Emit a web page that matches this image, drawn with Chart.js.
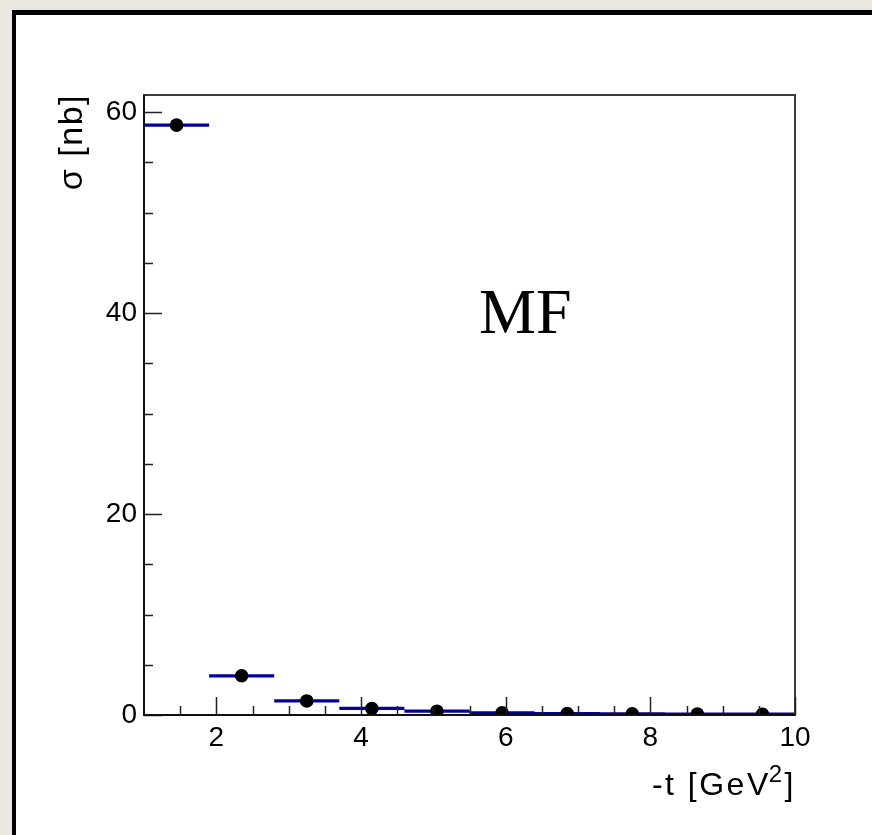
<!DOCTYPE html>
<html><head><meta charset="utf-8">
<script src="https://cdn.jsdelivr.net/npm/chart.js@4.4.1/dist/chart.umd.min.js"></script>
<style>html,body{margin:0;padding:0;background:#ebe8e1;overflow:hidden}#wrap{position:relative;width:872px;height:835px}</style>
</head><body><div id="wrap"><canvas id="c" width="872" height="835"></canvas></div>
<script>
// ---- data ----
const binEdges   = [1.0, 1.9, 2.8, 3.7, 4.6, 5.5, 6.4, 7.3, 8.2, 9.1, 10.0];
const binCenters = [1.45, 2.35, 3.25, 4.15, 5.05, 5.95, 6.85, 7.75, 8.65, 9.55];
const sigmaNb    = [58.7, 3.9, 1.4, 0.65, 0.38, 0.22, 0.15, 0.12, 0.10, 0.08];
const xTickValues = [1.5, 2, 2.5, 3, 3.5, 4, 4.5, 5, 5.5, 6, 6.5, 7, 7.5, 8, 8.5, 9, 9.5, 10];
const xMajorTicks = [2, 4, 6, 8, 10];
const yTickValues = [0, 5, 10, 15, 20, 25, 30, 35, 40, 45, 50, 55, 60];
const yMajorTicks = [0, 20, 40, 60];
const xTitleMain = '-t [GeV', xTitleSup = '2', xTitleEnd = ']';
const yTitle = 'σ [nb]';
const modelLabel = 'MF';

// histogram segments (null breaks between bins)
const histData = [];
for (let i = 0; i < sigmaNb.length; i++) {
  histData.push({x: binEdges[i], y: sigmaNb[i]});
  histData.push({x: binEdges[i + 1], y: sigmaNb[i]});
  histData.push({x: binEdges[i + 1], y: null});
}
const pointData = binCenters.map((x, i) => ({x: x, y: sigmaNb[i]}));

const SANS = "'Liberation Sans', Arial, sans-serif";

const decor = {
  id: 'decor',
  beforeDraw(chart) {
    const ctx = chart.ctx;
    ctx.save();
    ctx.fillStyle = '#ebe8e1';
    ctx.fillRect(0, 0, 872, 835);
    ctx.fillStyle = '#000';
    ctx.fillRect(12, 10, 872, 835);
    ctx.fillStyle = '#fff';
    ctx.fillRect(16, 15, 872, 835);
    ctx.restore();
  },
  afterDraw(chart) {
    const ctx = chart.ctx;
    const a = chart.chartArea;
    const xs = chart.scales.x, ys = chart.scales.y;
    ctx.save();
    // frame
    ctx.strokeStyle = '#3c3c3c';
    ctx.lineWidth = 2;
    ctx.strokeRect(a.left, a.top, a.right - a.left, a.bottom - a.top);
    // ticks
    ctx.strokeStyle = '#222';
    ctx.lineWidth = 1.5;
    ctx.beginPath();
    xs.ticks.forEach(t => {
      const p = Math.round(xs.getPixelForValue(t.value)) + 0.5;
      const len = xMajorTicks.includes(t.value) ? 18 : 9;
      ctx.moveTo(p, a.bottom); ctx.lineTo(p, a.bottom - len);
    });
    ys.ticks.forEach(t => {
      const p = Math.round(ys.getPixelForValue(t.value)) + 0.5;
      const len = yMajorTicks.includes(t.value) ? 18 : 9;
      ctx.moveTo(a.left, p); ctx.lineTo(a.left + len, p);
    });
    ctx.stroke();
    // axis lines
    ctx.strokeStyle = '#111';
    ctx.lineWidth = 2;
    ctx.beginPath();
    ctx.moveTo(a.left, a.top); ctx.lineTo(a.left, a.bottom); ctx.lineTo(a.right, a.bottom);
    ctx.stroke();

    ctx.fillStyle = '#000';
    // x title (right aligned at right edge of plot)
    const fMain = "32px " + SANS, fSup = "24px " + SANS;
    ctx.letterSpacing = '2.5px';
    ctx.font = fMain;
    const wMain = ctx.measureText(xTitleMain).width;
    const wEnd = ctx.measureText(xTitleEnd).width;
    ctx.font = fSup;
    const wSup = ctx.measureText(xTitleSup).width;
    const xr = a.right + 3;
    const base = 795;
    let x0 = xr - wMain - wSup - wEnd;
    ctx.textBaseline = 'alphabetic';
    ctx.textAlign = 'left';
    ctx.font = fMain;
    ctx.fillText(xTitleMain, x0, base);
    ctx.font = fSup;
    ctx.fillText(xTitleSup, x0 + wMain - 2, base - 13);
    ctx.font = fMain;
    ctx.fillText(xTitleEnd, x0 + wMain + wSup - 2, base);

    // y title (rotated, ending at plot top)
    ctx.save();
    ctx.font = "34px " + SANS;
    ctx.letterSpacing = '1.5px';
    ctx.translate(82, a.top - 1);
    ctx.rotate(-Math.PI / 2);
    ctx.textAlign = 'right';
    ctx.textBaseline = 'alphabetic';
    ctx.fillText(yTitle, 0, 0);
    ctx.restore();

    // model label
    ctx.letterSpacing = '0px';
    ctx.font = "64px 'Liberation Serif', 'Times New Roman', serif";
    ctx.textAlign = 'left';
    ctx.textBaseline = 'alphabetic';
    ctx.fillText(modelLabel, 479, 333);
    ctx.restore();
  }
};

new Chart(document.getElementById('c'), {
  type: 'scatter',
  data: {
    datasets: [
      {
        type: 'line', data: histData, borderColor: '#00009a', borderWidth: 3.2,
        pointRadius: 0, spanGaps: false, tension: 0, fill: false, order: 1,
        borderCapStyle: 'butt'
      },
      {
        data: pointData, backgroundColor: '#000', borderColor: '#000', borderWidth: 0,
        pointRadius: 6.8, pointHoverRadius: 6.8, order: 0
      }
    ]
  },
  options: {
    responsive: false, animation: false, devicePixelRatio: 1,
    layout: {padding: {top: 95, right: 77, left: 0, bottom: 0}},
    plugins: {legend: {display: false}, tooltip: {enabled: false}},
    events: [],
    scales: {
      x: {
        type: 'linear', min: 1, max: 10,
        afterBuildTicks: s => { s.ticks = xTickValues.map(v => ({value: v})); },
        afterFit: s => { s.height = 120; },
        grid: {display: false, drawTicks: false}, border: {display: false},
        ticks: {
          autoSkip: false, maxRotation: 0, padding: 6, color: '#000',
          font: {family: SANS, size: 28},
          callback: v => xMajorTicks.includes(v) ? String(v) : ''
        }
      },
      y: {
        type: 'linear', min: 0, max: 61.7,
        afterBuildTicks: s => { s.ticks = yTickValues.map(v => ({value: v})); },
        afterFit: s => { s.width = 144; },
        grid: {display: false, drawTicks: false}, border: {display: false},
        ticks: {
          autoSkip: false, padding: 7, color: '#000',
          font: {family: SANS, size: 28},
          callback: v => yMajorTicks.includes(v) ? String(v) : ''
        }
      }
    }
  },
  plugins: [decor]
});
</script></body></html>
